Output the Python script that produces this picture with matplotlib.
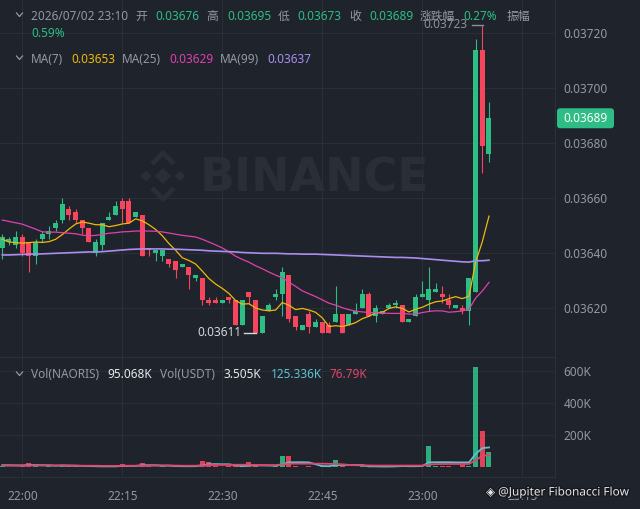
import matplotlib

matplotlib.use("Agg")
import matplotlib.pyplot as plt
import matplotlib.patheffects as pe
from matplotlib.patches import FancyBboxPatch, RegularPolygon
from matplotlib.transforms import blended_transform_factory
import numpy as np
import pandas as pd

BG = "#1f232b"
GRID = "#2a2e37"
UP = "#2ebd85"
DOWN = "#f6465d"
LABEL = "#929aa5"
MA7_C = "#f0b90b"
MA25_C = "#e041ad"
MA99_C = "#a98ef0"
VMA5_C = "#5fc2cf"
VMA10_C = "#e0456b"
FONT = ["Noto Sans", "Noto Sans CJK SC", "DejaVu Sans"]
FS = 8.5

plt.rcParams["font.family"] = FONT

# 1-minute candles, 21:57 .. 23:10
OPEN = [0.03642, 0.03644, 0.03643, 0.03646, 0.03644, 0.03639, 0.03645, 0.03647, 0.03649, 0.03652,
        0.03656, 0.03655, 0.03652, 0.03649, 0.03640, 0.03643, 0.03652, 0.03654, 0.03659, 0.03659,
        0.03653, 0.03654, 0.03642, 0.03640, 0.03639, 0.03638, 0.03637, 0.03635, 0.03635, 0.03631,
        0.03631, 0.03623, 0.03623, 0.03622, 0.03624, 0.03623, 0.03614, 0.03626, 0.03623, 0.03611,
        0.03619, 0.03624, 0.03625, 0.03632, 0.03617, 0.03612, 0.03618, 0.03613, 0.03615, 0.03614,
        0.03615, 0.03618, 0.03614, 0.03618, 0.03620, 0.03625, 0.03617, 0.03618, 0.03620, 0.03621,
        0.03621, 0.03615, 0.03617, 0.03624, 0.03623, 0.03626, 0.03625, 0.03623, 0.03620, 0.03620,
        0.03619, 0.03626, 0.03714, 0.03676]
HIGH = [0.03647, 0.03646, 0.03648, 0.03647, 0.03644, 0.03645, 0.03648, 0.03650, 0.03652, 0.03660,
        0.03657, 0.03656, 0.03652, 0.03649, 0.03645, 0.03651, 0.03655, 0.03659, 0.03660, 0.03660,
        0.03655, 0.03654, 0.03642, 0.03641, 0.03641, 0.03638, 0.03637, 0.03636, 0.03635, 0.03632,
        0.03631, 0.03624, 0.03624, 0.03623, 0.03624, 0.03623, 0.03623, 0.03626, 0.03623, 0.03617,
        0.03622, 0.03627, 0.03635, 0.03632, 0.03617, 0.03614, 0.03619, 0.03616, 0.03615, 0.03615,
        0.03628, 0.03618, 0.03618, 0.03622, 0.03627, 0.03626, 0.03621, 0.03619, 0.03622, 0.03623,
        0.03621, 0.03616, 0.03625, 0.03630, 0.03635, 0.03629, 0.03628, 0.03625, 0.03621, 0.03621,
        0.03631, 0.03718, 0.03723, 0.03695]
LOW = [0.03638, 0.03643, 0.03642, 0.03639, 0.03633, 0.03636, 0.03644, 0.03645, 0.03648, 0.03651,
       0.03652, 0.03651, 0.03647, 0.03644, 0.03639, 0.03641, 0.03652, 0.03654, 0.03651, 0.03651,
       0.03653, 0.03639, 0.03639, 0.03637, 0.03637, 0.03635, 0.03631, 0.03635, 0.03627, 0.03630,
       0.03621, 0.03621, 0.03622, 0.03622, 0.03622, 0.03614, 0.03614, 0.03622, 0.03611, 0.03611,
       0.03619, 0.03623, 0.03617, 0.03615, 0.03612, 0.03612, 0.03611, 0.03613, 0.03611, 0.03611,
       0.03615, 0.03611, 0.03614, 0.03618, 0.03620, 0.03617, 0.03615, 0.03618, 0.03620, 0.03620,
       0.03615, 0.03615, 0.03617, 0.03624, 0.03619, 0.03626, 0.03622, 0.03620, 0.03620, 0.03618,
       0.03614, 0.03626, 0.03669, 0.03673]
CLOSE = [0.03646, 0.03645, 0.03646, 0.03640, 0.03639, 0.03644, 0.03647, 0.03648, 0.03651, 0.03658,
         0.03654, 0.03652, 0.03649, 0.03644, 0.03644, 0.03651, 0.03653, 0.03657, 0.03656, 0.03651,
         0.03655, 0.03639, 0.03641, 0.03641, 0.03641, 0.03636, 0.03634, 0.03636, 0.03632, 0.03632,
         0.03623, 0.03622, 0.03622, 0.03623, 0.03623, 0.03614, 0.03623, 0.03624, 0.03611, 0.03617,
         0.03621, 0.03625, 0.03633, 0.03616, 0.03613, 0.03614, 0.03613, 0.03615, 0.03611, 0.03611,
         0.03618, 0.03611, 0.03618, 0.03619, 0.03625, 0.03617, 0.03620, 0.03619, 0.03621, 0.03622,
         0.03615, 0.03616, 0.03624, 0.03625, 0.03627, 0.03627, 0.03624, 0.03621, 0.03621, 0.03619,
         0.03631, 0.03714, 0.03679, 0.03689]

# volume in thousands of NAORIS
VOLUME = [12, 6, 5, 7, 27, 9, 6, 8, 5, 18, 9, 7, 6, 5, 6, 8, 4, 6, 23, 9,
          5, 25, 8, 6, 14, 6, 8, 4, 9, 5, 38, 35, 12, 5, 7, 9, 8, 32, 10, 6,
          5, 8, 69, 69, 10, 4, 8, 6, 9, 7, 47, 9, 6, 5, 7, 10, 6, 4, 5, 6,
          18, 4, 8, 6, 137, 8, 9, 12, 6, 14, 10, 627, 231, 95.068]

# MA values read where the window reaches before the visible candles
MA7_LEAD = [0.036450, 0.036440, 0.036438, 0.036436, 0.036438, 0.036440]
MA25_LEAD = [0.036520, 0.036515, 0.036510, 0.036505, 0.036496, 0.036487, 0.036477, 0.036476,
             0.036476, 0.036474, 0.036472, 0.036470, 0.036465, 0.036463, 0.036464, 0.036468,
             0.036472, 0.036474, 0.036477, 0.036478, 0.036480, 0.036480, 0.036480, 0.036479]
MA99 = [0.036393, 0.036393, 0.036394, 0.036395, 0.036396, 0.036396, 0.036397, 0.036398, 0.036399, 0.036400,
        0.036401, 0.036402, 0.036403, 0.036404, 0.036404, 0.036405, 0.036407, 0.036409, 0.036411, 0.036413,
        0.036414, 0.036415, 0.036415, 0.036415, 0.036415, 0.036414, 0.036414, 0.036413, 0.036412, 0.036411,
        0.036410, 0.036408, 0.036407, 0.036406, 0.036405, 0.036404, 0.036402, 0.036401, 0.036400, 0.036399,
        0.036399, 0.036399, 0.036398, 0.036397, 0.036397, 0.036396, 0.036396, 0.036396, 0.036395, 0.036394,
        0.036393, 0.036392, 0.036391, 0.036390, 0.036389, 0.036388, 0.036387, 0.036386, 0.036385, 0.036384,
        0.036384, 0.036383, 0.036382, 0.036380, 0.036378, 0.036376, 0.036374, 0.036372, 0.036370, 0.036368,
        0.036367, 0.036372, 0.036372, 0.036374]
VOL_MA5 = [14, 14, 13, 13, 15, 15, 14, 14, 11, 13, 12, 11, 10, 9, 8, 7, 7, 7, 10, 10,
           10, 14, 14, 14, 12, 12, 9, 8, 8, 8, 14, 20, 21, 20, 20, 14, 8, 13, 13, 13,
           12, 12, 20, 32, 33, 33, 32, 20, 9, 8, 16, 16, 16, 15, 15, 7, 7, 6, 6, 7,
           9, 8, 8, 9, 32, 33, 33, 33, 32, 32, 32, 85, 121, 125.336]
VOL_MA10 = [12, 12, 12, 12, 13, 13, 13, 13, 13, 13, 12, 12, 11, 11, 11, 10, 10, 10, 11, 11,
            11, 12, 12, 12, 12, 12, 12, 11, 11, 11, 13, 15, 16, 16, 16, 17, 17, 17, 16, 15,
            15, 15, 19, 23, 24, 24, 24, 24, 24, 23, 22, 20, 16, 14, 13, 13, 12, 12, 12, 12,
            12, 12, 12, 12, 19, 21, 22, 22, 22, 22, 22, 45, 73, 76.79]

PRICE_TICKS = [0.03620, 0.03640, 0.03660, 0.03680, 0.03700, 0.03720]
VOL_TICKS = [200, 400, 600]
TIME_TICKS = [3, 18, 33, 48, 63, 78]
TIME_LABELS = ["22:00", "22:15", "22:30", "22:45", "23:00", "23:15"]


def fig_y(ax, value):
    # figure pixel row (from top) of a data value on ax
    return 509 - ax.transData.transform((0, value))[1]


fig = plt.figure(figsize=(6.4, 5.09), dpi=100, facecolor=BG)
back = fig.add_axes([0, 0, 1, 1], zorder=0)
back.set_xlim(0, 640)
back.set_ylim(509, 0)
back.axis("off")
back.set_facecolor(BG)

ax = fig.add_axes([0, 1 - 357 / 509, 555 / 640, 357 / 509], zorder=1)
vax = fig.add_axes([0, 32 / 509, 555 / 640, 120 / 509], zorder=1, sharex=ax)
front = fig.add_axes([0, 0, 1, 1], zorder=3)
front.set_xlim(0, 640)
front.set_ylim(509, 0)
front.axis("off")
front.patch.set_alpha(0)

# watermark
wm = "#2a2e36"
back.text(200, 179, "BINANCE", fontsize=33, fontweight="bold", family="DejaVu Sans",
          color=wm, ha="left", va="center")
for cx, cy, r in [(163, 176, 7), (146, 176, 4.5), (180, 176, 4.5)]:
    back.add_patch(RegularPolygon((cx, cy), 4, radius=r, orientation=0, color=wm))
back.plot([152, 163, 174], [164, 153, 164], color=wm, lw=3.5, solid_capstyle="butt")
back.plot([152, 163, 174], [188, 199, 188], color=wm, lw=3.5, solid_capstyle="butt")

n = len(CLOSE)
idx = np.arange(n)
o = np.array(OPEN)
c = np.array(CLOSE)
h = np.array(HIGH)
lo = np.array(LOW)
up = c >= o
colors = np.where(up, UP, DOWN)
one_px = 0.0002 / 55

for a in (ax, vax):
    a.set_facecolor("none")
    a.set_xticks(TIME_TICKS)
    a.grid(True, color=GRID, lw=0.8)
    a.set_axisbelow(True)
    for side in ("left", "top"):
        a.spines[side].set_visible(False)
    for side in ("right", "bottom"):
        a.spines[side].set_color("#2b3039")
    a.tick_params(colors=LABEL, labelsize=FS, length=0)
    a.yaxis.tick_right()
    a.tick_params(axis="y", pad=6)

ax.set_xlim(-0.345, 82.9)
ax.set_ylim(0.036022, 0.037320)
ax.set_yticks(PRICE_TICKS)
ax.set_yticklabels([f"{p:.5f}" for p in PRICE_TICKS])
ax.tick_params(axis="x", labelbottom=False)

ax.vlines(idx, lo, h, colors=colors, lw=0.8, zorder=2)
bottoms = np.minimum(o, c)
heights = np.maximum(np.abs(c - o), one_px)
ax.bar(idx, heights, bottom=bottoms, width=0.75, color=colors, zorder=3)

ma7 = pd.Series(CLOSE).rolling(7).mean().to_numpy()
ma7[:len(MA7_LEAD)] = MA7_LEAD
ma25 = pd.Series(CLOSE).rolling(25).mean().to_numpy()
ma25[:len(MA25_LEAD)] = MA25_LEAD
ax.plot(idx, ma7, color=MA7_C, lw=0.9, zorder=4)
ax.plot(idx, ma25, color=MA25_C, lw=0.9, zorder=4)
ax.plot(idx, MA99, color=MA99_C, lw=1.2, zorder=4)

# high / low markers
i_hi = int(np.argmax(h))
i_lo = int(np.argmin(lo))
ax.plot([i_hi - 1.6, i_hi + 0.1], [h[i_hi], h[i_hi]], color="#8a919b", lw=1, zorder=5)
ax.text(i_hi - 2.2, h[i_hi], f"{h[i_hi]:.5f}", color="#8a919b", fontsize=FS,
        ha="right", va="center", zorder=5)
ax.plot([i_lo - 1.75, i_lo], [lo[i_lo], lo[i_lo]], color="#d4d7dc", lw=1, zorder=5)
ax.text(i_lo - 2.1, lo[i_lo], f"{lo[i_lo]:.5f}", color="#d4d7dc", fontsize=FS,
        ha="right", va="center", zorder=5)

# volume
vol = np.array(VOLUME)
vax.set_ylim(-59.4, 690.6)
vax.set_yticks(VOL_TICKS)
vax.set_yticklabels([f"{v}K" for v in VOL_TICKS])
vax.bar(idx, vol, width=0.75, color=colors, alpha=0.9, zorder=2)
vax.plot(idx, VOL_MA5, color=VMA5_C, lw=1.3, zorder=3)
vax.plot(idx, VOL_MA10, color=VMA10_C, lw=1.3, zorder=3)
vax.set_xticklabels(TIME_LABELS)
vax.tick_params(axis="x", pad=9)
vax.spines["top"].set_visible(True)
vax.spines["top"].set_color("#2b3039")

# current price tag
py = fig_y(ax, CLOSE[-1])
front.add_patch(FancyBboxPatch((557, py - 10), 57, 20,
                               boxstyle="round,pad=0,rounding_size=3", fc=UP, ec="none"))
front.text(585.5, py, f"{CLOSE[-1]:.5f}", color="white", fontsize=FS, ha="center", va="center")


def chevron(y):
    front.plot([16.5, 19.5, 22.5], [y - 2, y + 1.5, y - 2], color=LABEL, lw=0.9)


def row(y, items):
    for x, s, col in items:
        front.text(x, y, s, color=col, fontsize=FS, ha="left", va="center")


chevron(15)
row(16, [(31, "2026/07/02 23:10", LABEL), (135, "开", LABEL), (155, f"{OPEN[-1]:.5f}", UP),
         (206, "高", LABEL), (227, f"{HIGH[-1]:.5f}", UP), (278, "低", LABEL),
         (297, f"{LOW[-1]:.5f}", UP), (349, "收", LABEL), (369, f"{CLOSE[-1]:.5f}", UP),
         (420, "涨跌幅", LABEL), (463, "0.27%", UP), (507, "振幅", LABEL)])
row(33, [(31, "0.59%", UP)])
chevron(58)
row(59, [(31, "MA(7)", LABEL), (71, f"{ma7[-1]:.5f}", MA7_C), (122, "MA(25)", LABEL),
         (169, f"{ma25[-1]:.5f}", MA25_C), (220, "MA(99)", LABEL), (267, f"{MA99[-1]:.5f}", MA99_C)])
chevron(374)
row(375, [(31, "Vol(NAORIS)", LABEL), (107, "95.068K", "#e6e8ea"), (160, "Vol(USDT)", LABEL),
          (224, "3.505K", "#e6e8ea"), (271, "125.336K", VMA5_C), (329, "76.79K", VMA10_C)])

front.text(486, 492, "◈ @Jupiter Fibonacci Flow", color="#e4e4e4", fontsize=FS,
           ha="left", va="center",
           path_effects=[pe.withStroke(linewidth=2, foreground="#15181d")])

fig.savefig("out.png", dpi=100, facecolor=BG)
